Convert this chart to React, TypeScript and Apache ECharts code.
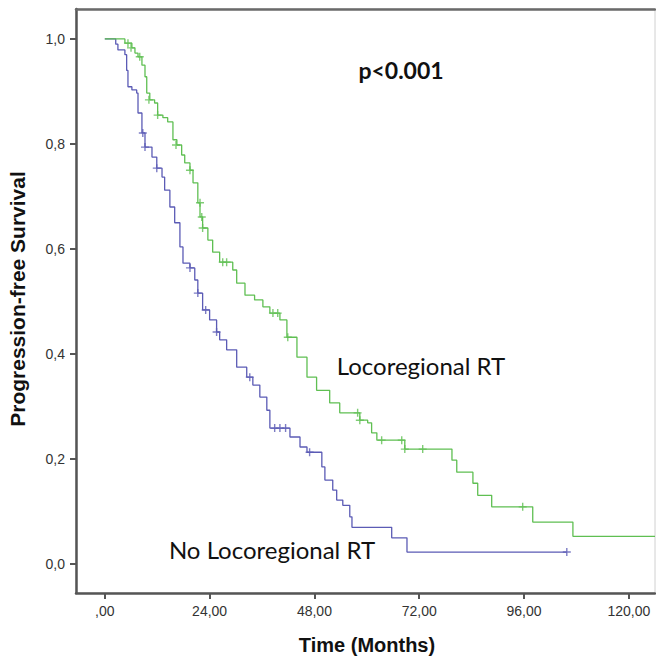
import React, { useEffect, useRef } from "react";
import * as echarts from "echarts";

// Kaplan-Meier: No Locoregional RT (blue)
const noRtTimes = [0, 2.5, 3.0, 4.6, 5.0, 5.3, 6.2, 7.3, 7.6, 8.5, 9.2, 10.8, 11.9, 13.1, 13.7, 14.9, 16.0, 17.2, 17.9, 19.5, 20.6, 21.3, 22.4, 24.0, 25.6, 26.3, 27.9, 30.2, 32.5, 33.9, 35.5, 37.1, 37.8, 42.4, 44.7, 46.3, 49.7, 50.4, 52.2, 53.1, 54.5, 56.1, 56.6, 65.7, 69.2, 105.8];
const noRtSurv = [1.0, 0.99, 0.979, 0.97, 0.94, 0.909, 0.903, 0.897, 0.859, 0.821, 0.794, 0.775, 0.754, 0.737, 0.712, 0.68, 0.65, 0.604, 0.573, 0.564, 0.541, 0.516, 0.484, 0.465, 0.442, 0.427, 0.408, 0.375, 0.356, 0.341, 0.318, 0.293, 0.259, 0.242, 0.223, 0.213, 0.185, 0.16, 0.141, 0.122, 0.112, 0.09, 0.07, 0.05, 0.023, 0.023];
const noRtCensorT = [8.7, 9.2, 11.9, 19.5, 21.3, 23.1, 25.6, 33.2, 38.9, 40.1, 41.4, 46.9, 105.8];
const noRtCensorS = [0.821, 0.794, 0.754, 0.564, 0.516, 0.484, 0.442, 0.356, 0.259, 0.259, 0.259, 0.213, 0.023];

// Kaplan-Meier: Locoregional RT (green)
const rtTimes = [0, 4.6, 6.2, 6.9, 7.6, 8.5, 9.2, 9.6, 10.3, 11.4, 12.1, 13.3, 14.4, 15.6, 16.5, 17.6, 18.3, 19.5, 20.2, 21.3, 21.8, 22.4, 23.6, 24.7, 26.3, 29.3, 30.2, 32.1, 34.3, 36.2, 37.8, 40.1, 41.7, 44.0, 46.3, 48.5, 51.5, 53.8, 58.4, 60.2, 61.1, 62.3, 68.7, 79.5, 80.6, 84.3, 85.4, 88.6, 98.0, 107.2, 126];
const rtSurv = [1.0, 0.992, 0.983, 0.973, 0.966, 0.95, 0.928, 0.897, 0.884, 0.878, 0.855, 0.85, 0.842, 0.808, 0.798, 0.779, 0.764, 0.75, 0.726, 0.688, 0.661, 0.64, 0.617, 0.594, 0.575, 0.56, 0.535, 0.512, 0.503, 0.49, 0.478, 0.465, 0.432, 0.394, 0.356, 0.331, 0.307, 0.288, 0.274, 0.269, 0.25, 0.236, 0.219, 0.198, 0.175, 0.154, 0.131, 0.109, 0.08, 0.053, 0.053];
const rtCensorT = [5.3, 6.0, 8.0, 10.1, 12.1, 16.3, 19.5, 21.8, 22.2, 22.4, 27.0, 27.9, 38.5, 39.6, 41.9, 57.9, 58.4, 63.4, 68.0, 68.7, 72.8, 95.7];
const rtCensorS = [0.992, 0.983, 0.966, 0.884, 0.855, 0.798, 0.75, 0.688, 0.661, 0.64, 0.575, 0.575, 0.478, 0.478, 0.432, 0.288, 0.274, 0.236, 0.236, 0.219, 0.219, 0.109];

const xTicks = [0, 24, 48, 72, 96, 120];
const xTickLabels = [",00", "24,00", "48,00", "72,00", "96,00", "120,00"];
const yTicks = [0, 0.2, 0.4, 0.6, 0.8, 1.0];
const yTickLabels = ["0,0", "0,2", "0,4", "0,6", "0,8", "1,0"];

const BLUE = "#5b5bb5";
const GREEN = "#5fbf52";
const PLUS = "path://M3.3,0H4.7V3.3H8V4.7H4.7V8H3.3V4.7H0V3.3H3.3Z";

const zip = (a: number[], b: number[]) => a.map((v, i) => [v, b[i]]);

export default function App() {
  const ref = useRef<HTMLDivElement>(null);
  useEffect(() => {
    if (!ref.current) return;
    const chart = echarts.init(ref.current, undefined, { renderer: "svg" });
    const axisFont = { fontFamily: "Liberation Sans, Arial, sans-serif", fontSize: 14, color: "#333" };
    chart.setOption({
      animation: false,
      backgroundColor: "#fff",
      grid: { left: 76, top: 9, right: 1, bottom: 68, show: true, borderColor: "#d0d0d0", borderWidth: 1 },
      xAxis: [
        {
          type: "value",
          min: -6.6,
          max: 126,
          splitLine: { show: false },
          axisLine: { onZero: false, lineStyle: { color: "#555", width: 2.5 } },
          axisTick: { show: true, length: 6, lineStyle: { color: "#555", width: 2 }, customValues: xTicks },
          axisLabel: {
            ...axisFont,
            margin: 11,
            customValues: xTicks,
            formatter: (v: number) => xTickLabels[xTicks.indexOf(Math.round(v))] ?? "",
          },
        },
        {
          type: "value",
          position: "top",
          min: -6.6,
          max: 126,
          splitLine: { show: false },
          axisLine: { show: true, onZero: false, lineStyle: { color: "#6a6a6a", width: 2.5 } },
          axisTick: { show: false },
          axisLabel: { show: false },
        },
      ],
      yAxis: {
        type: "value",
        min: -0.055,
        max: 1.057,
        splitLine: { show: false },
        axisLine: { show: true, onZero: false, lineStyle: { color: "#555", width: 2.5 } },
        axisTick: { show: true, length: 6, lineStyle: { color: "#555", width: 2 }, customValues: yTicks },
        axisLabel: {
          ...axisFont,
          margin: 11,
          customValues: yTicks,
          formatter: (v: number) => yTickLabels[yTicks.findIndex((t) => Math.abs(t - v) < 1e-6)] ?? "",
        },
      },
      series: [
        {
          type: "line",
          name: "No Locoregional RT",
          step: "end",
          data: zip(noRtTimes, noRtSurv),
          showSymbol: false,
          lineStyle: { color: BLUE, width: 1.3 },
          z: 3,
        },
        {
          type: "line",
          name: "Locoregional RT",
          step: "end",
          data: zip(rtTimes, rtSurv),
          showSymbol: false,
          lineStyle: { color: GREEN, width: 1.3 },
          z: 3,
        },
        {
          type: "scatter",
          data: zip(noRtCensorT, noRtCensorS),
          symbol: PLUS,
          symbolSize: 8,
          itemStyle: { color: BLUE },
          z: 4,
        },
        {
          type: "scatter",
          data: zip(rtCensorT, rtCensorS),
          symbol: PLUS,
          symbolSize: 8,
          itemStyle: { color: GREEN },
          z: 4,
        },
      ],
      graphic: [
        {
          type: "text",
          x: 17,
          y: 299,
          rotation: Math.PI / 2,
          style: {
            text: "Progression-free Survival",
            font: "bold 21px 'Liberation Sans', Arial, sans-serif",
            fill: "#111",
            align: "center",
            verticalAlign: "middle",
          },
        },
        {
          type: "text",
          x: 367,
          y: 645,
          style: {
            text: "Time (Months)",
            font: "bold 20px 'Liberation Sans', Arial, sans-serif",
            fill: "#111",
            align: "center",
            verticalAlign: "middle",
          },
        },
        {
          type: "text",
          x: 401,
          y: 70,
          style: {
            text: "p<0.001",
            font: "bold 23px Lato, 'Open Sans', sans-serif",
            fill: "#111",
            align: "center",
            verticalAlign: "middle",
          },
        },
        {
          type: "text",
          x: 421,
          y: 365,
          style: {
            text: "Locoregional RT",
            font: "24px Lato, 'Open Sans', sans-serif",
            fill: "#111",
            align: "center",
            verticalAlign: "middle",
          },
        },
        {
          type: "text",
          x: 272,
          y: 549,
          style: {
            text: "No Locoregional RT",
            font: "24px Lato, 'Open Sans', sans-serif",
            fill: "#111",
            align: "center",
            verticalAlign: "middle",
          },
        },
      ],
    });
    return () => chart.dispose();
  }, []);
  return <div ref={ref} style={{ width: 656, height: 661, position: "absolute", left: 0, top: 0 }} />;
}
